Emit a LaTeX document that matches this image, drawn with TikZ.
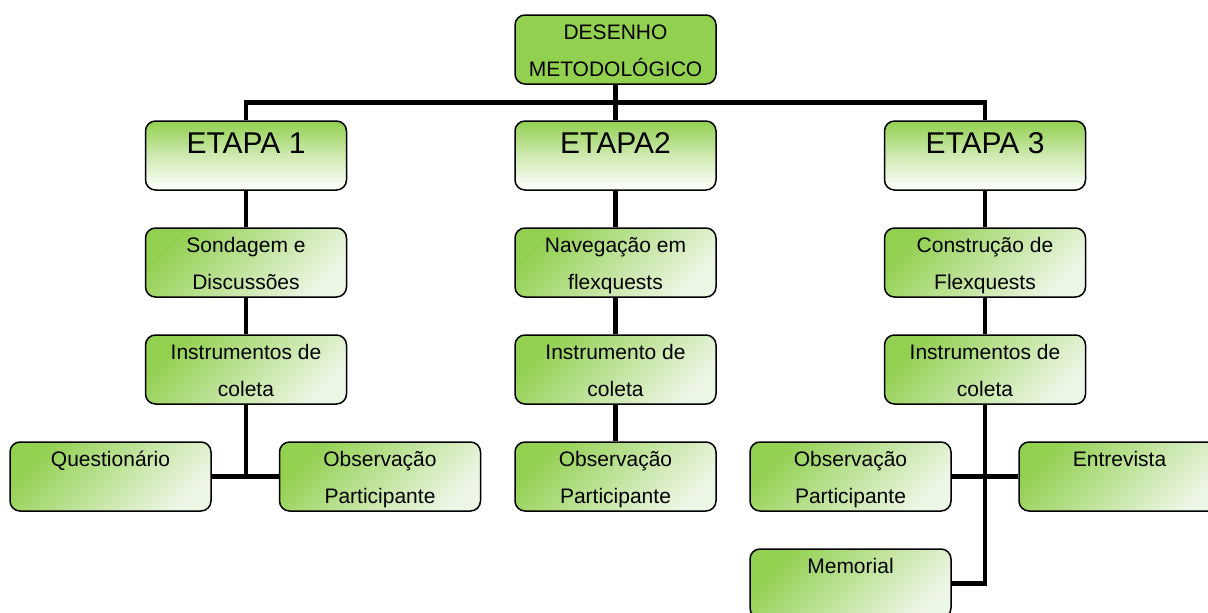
\documentclass[tikz,border=0pt]{standalone}
\usepackage{fontspec}
\setmainfont{Liberation Sans}
\usepackage{tikz}
\usetikzlibrary{positioning}

\definecolor{verde}{RGB}{146,208,80}
\definecolor{verdeclaro}{RGB}{236,246,228}

\newcommand{\cx}[1]{\parbox[c][69pt][t]{195pt}{\centering\fontsize{21pt}{37pt}\selectfont\rule{0pt}{24.5pt}#1}}
\newcommand{\ex}[1]{\parbox[c][69pt][t]{195pt}{\centering\fontsize{30pt}{36pt}\selectfont\rule{0pt}{32pt}#1}}

\tikzset{
  base/.style={draw, line width=1.5pt, rounded corners=10pt, inner sep=0pt,
    minimum width=201pt, minimum height=69pt},
  raiz/.style={base, fill=verde},
  etapa/.style={base, top color=verde, bottom color=white, middle color=verde!45!white},
  caixa/.style={base, top color=verde, bottom color=verdeclaro, shading angle=45},
  ligacao/.style={line width=4.8pt}
}

\begin{document}
\begin{tikzpicture}[x=1pt, y=1pt, node distance=107pt, on grid]
   \clip (0,0) rectangle (1208,-613);
   \fill[white] (0,0) rectangle (1208,-613);

   \node[raiz] (desenho) at (615.5,-49.5) {\cx{DESENHO\\METODOLÓGICO}};
   \node[etapa] (etapa2) [below=106pt of desenho]        {\ex{ETAPA2}};
   \node[etapa] (etapa1) [left=369.5pt of etapa2]        {\ex{ETAPA 1}};
   \node[etapa] (etapa3) [right=369.5pt of etapa2]       {\ex{ETAPA 3}};
   \node[coordinate] (hub) [below=53pt of desenho] {};

   \node[caixa] (sondagem)   [below=of etapa1]   {\cx{Sondagem e\\Discussões}};
   \node[caixa] (navegacao)  [below=of etapa2]   {\cx{Navegação em\\flexquests}};
   \node[caixa] (construcao) [below=of etapa3]   {\cx{Construção de\\Flexquests}};

   \node[caixa] (instr1) [below=of sondagem]     {\cx{Instrumentos de\\coleta}};
   \node[caixa] (instr2) [below=of navegacao]    {\cx{Instrumento de\\coleta}};
   \node[caixa] (instr3) [below=of construcao]   {\cx{Instrumentos de\\coleta}};

   \node[caixa] (questionario) [below left=107pt and 135.5pt of instr1]  {\cx{Questionário}};
   \node[caixa] (obs1)         [below right=107pt and 134pt of instr1]   {\cx{Observação\\Participante}};
   \node[caixa] (obs2)         [below=of instr2]                         {\cx{Observação\\Participante}};
   \node[caixa] (obs3)         [below left=107pt and 134.5pt of instr3]  {\cx{Observação\\Participante}};
   \node[caixa] (entrevista)   [below right=107pt and 134.5pt of instr3] {\cx{Entrevista}};
   \node[caixa] (memorial)     [below=of obs3]                           {\cx{Memorial}};

   \path[ligacao]
    (desenho)      edge (etapa2)
    (etapa1)       edge (sondagem)
    (sondagem)     edge (instr1)
    (etapa2)       edge (navegacao)
    (navegacao)    edge (instr2)
    (instr2)       edge (obs2)
    (etapa3)       edge (construcao)
    (construcao)   edge (instr3)
    (questionario) edge (obs1)
    (obs3)         edge (entrevista);

   \draw[ligacao] (etapa1.north) |- (hub) -| (etapa3.north);
   \draw[ligacao] (instr1) -- (instr1 |- questionario);
   \draw[ligacao] (instr3) |- (memorial);
\end{tikzpicture}
\end{document}
